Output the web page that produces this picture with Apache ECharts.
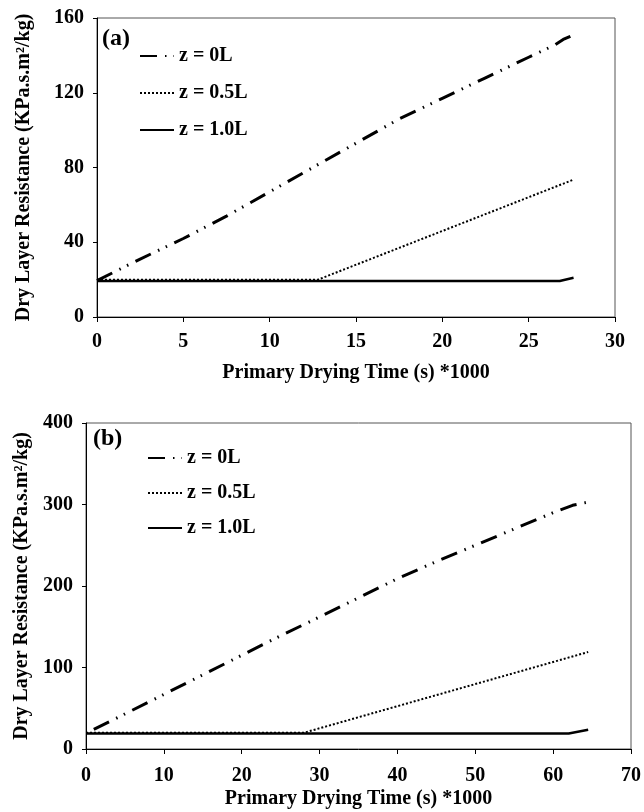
<!DOCTYPE html>
<html>
<head>
<meta charset="utf-8">
<script src="https://cdn.jsdelivr.net/npm/echarts@6/dist/echarts.min.js"></script>
<style>html,body{margin:0;padding:0;background:#fff;}#c{width:644px;height:812px;}</style>
</head>
<body>
<div id="c"></div>
<script>
// ---- Data: panel (a) ----
var seriesNames = ['z = 0L', 'z = 0.5L', 'z = 1.0L'];
var xa0 = [0, 2.5, 5, 7.5, 10, 12.5, 15, 17.5, 20, 22.5, 25, 26.5, 27, 27.6];
var ya0 = [19.5, 31, 42, 54, 67, 80, 93, 106, 117, 128, 139, 145.5, 148.5, 151];
var xa1 = [0, 12.8, 27.6];
var ya1 = [20, 20, 73.5];
var xa2 = [0, 26.8, 27.6];
var ya2 = [19.3, 19.3, 21];
// ---- Data: panel (b) ----
var xb0 = [1, 5, 10, 15, 20, 25, 30, 35, 40, 45, 50, 55, 60, 62.5, 64.5];
var yb0 = [24, 43, 67, 91, 115, 139, 162, 185.5, 209, 230, 250, 270, 290, 299, 303];
var xb1 = [0, 28, 64.5];
var yb1 = [20, 20, 119];
var xb2 = [0, 62, 64.5];
var yb2 = [19, 19, 23.5];
// ---- Axis ticks ----
var xTicksA = {min: 0, max: 30, interval: 5};
var yTicksA = {min: 0, max: 160, interval: 40};
var xTicksB = {min: 0, max: 70, interval: 10};
var yTicksB = {min: 0, max: 400, interval: 100};
var xAxisName = 'Primary Drying Time (s) *1000';
var yAxisName = 'Dry Layer Resistance (KPa.s.m\u00B2/kg)';

function pairs(xs, ys) { return xs.map(function (x, i) { return [x, ys[i]]; }); }

var FONT = '"Liberation Serif", "DejaVu Serif", serif';
var styles = [
  {type: [17, 8, 1.5, 7, 1.5, 8], width: 3, color: '#000', cap: 'butt'},
  {type: [2, 2], width: 2, color: '#000', cap: 'butt'},
  {type: 'solid', width: 2.5, color: '#000'}
];

function xAxis(idx, t, gap, margin) {
  return {
    type: 'value', gridIndex: idx, min: t.min, max: t.max, interval: t.interval,
    name: xAxisName, nameLocation: 'middle', nameGap: gap,
    nameTextStyle: {fontFamily: FONT, fontWeight: 'bold', fontSize: 20, color: '#000'},
    axisLine: {show: true, lineStyle: {color: '#000', width: 1}},
    axisTick: {show: true, length: 5, lineStyle: {color: '#000'}},
    axisLabel: {fontFamily: FONT, fontWeight: 'bold', fontSize: 20, color: '#000', margin: margin},
    splitLine: {show: false}
  };
}
function yAxis(idx, t, gap) {
  return {
    type: 'value', gridIndex: idx, min: t.min, max: t.max, interval: t.interval,
    name: yAxisName, nameLocation: 'middle', nameGap: gap, nameRotate: 90,
    nameTextStyle: {fontFamily: FONT, fontWeight: 'bold', fontSize: 20, color: '#000'},
    axisLine: {show: true, lineStyle: {color: '#000', width: 1}},
    axisTick: {show: true, length: 4, lineStyle: {color: '#000'}},
    axisLabel: {fontFamily: FONT, fontWeight: 'bold', fontSize: 20, color: '#000', margin: 13},
    splitLine: {show: false}
  };
}
function line(name, xs, ys, k, idx) {
  return {
    type: 'line', name: name, xAxisIndex: idx, yAxisIndex: idx,
    data: pairs(xs, ys), symbol: 'none', smooth: false, animation: false,
    lineStyle: styles[k], itemStyle: {color: '#000'}, z: 3 - k
  };
}
function legend(left, top, gap) {
  return {
    orient: 'vertical', left: left, top: top, itemWidth: 34, itemHeight: 14, itemGap: gap,
    padding: 0, data: seriesNames, selectedMode: false,
    itemStyle: {opacity: 0},
    textStyle: {fontFamily: FONT, fontWeight: 'bold', fontSize: 20, color: '#000', lineHeight: 20}
  };
}

var chart = echarts.init(document.getElementById('c'), null, {renderer: 'canvas'});
chart.setOption({
  animation: false,
  backgroundColor: '#fff',
  grid: [
    {left: 97, top: 18, width: 518, height: 299, show: true, borderColor: '#555', borderWidth: 1, containLabel: false},
    {left: 86, top: 423, width: 545, height: 326, show: true, borderColor: '#555', borderWidth: 1, containLabel: false}
  ],
  xAxis: [xAxis(0, xTicksA, 46, 15), xAxis(1, xTicksB, 40, 17)],
  yAxis: [yAxis(0, yTicksA, 63), yAxis(1, yTicksB, 53)],
  legend: [legend(139, 46, 17), legend(147, 448, 15)],
  graphic: [
    {type: 'text', left: 102, top: 27, style: {text: '(a)', font: 'bold 24px ' + FONT, fill: '#000'}},
    {type: 'text', left: 93, top: 427, style: {text: '(b)', font: 'bold 24px ' + FONT, fill: '#000'}}
  ],
  series: [
    line(seriesNames[0], xa0, ya0, 0, 0),
    line(seriesNames[1], xa1, ya1, 1, 0),
    line(seriesNames[2], xa2, ya2, 2, 0),
    line(seriesNames[0], xb0, yb0, 0, 1),
    line(seriesNames[1], xb1, yb1, 1, 1),
    line(seriesNames[2], xb2, yb2, 2, 1)
  ]
});
</script>
</body>
</html>
